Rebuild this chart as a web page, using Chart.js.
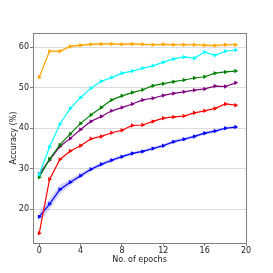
<!DOCTYPE html>
<html>
<head>
<meta charset="utf-8">
<script src="https://cdn.jsdelivr.net/npm/chart.js@4/dist/chart.umd.min.js"></script>
<style>
  html, body { margin: 0; padding: 0; background: #fff; }
  #wrap { width: 273px; height: 273px; }
</style>
</head>
<body>
<div id="wrap"><canvas id="myChart" width="273" height="273"></canvas></div>
<script>
const epochs = [0,1,2,3,4,5,6,7,8,9,10,11,12,13,14,15,16,17,18,19];
const xTicks = [0, 4, 8, 12, 16, 20];
const yTicks = [20, 30, 40, 50, 60];

const orange = [52.6,59.0,59.0,60.2,60.5,60.7,60.8,60.8,60.7,60.8,60.7,60.6,60.7,60.6,60.6,60.6,60.5,60.4,60.6,60.6];
const cyan   = [28.6,35.4,41.0,44.9,47.6,49.9,51.6,52.5,53.6,54.1,54.8,55.4,56.3,57.1,57.6,57.3,58.8,58.0,59.0,59.3];
const green  = [27.9,32.4,35.9,38.6,41.2,43.3,45.1,47.0,48.0,48.8,49.5,50.5,51.0,51.5,51.9,52.4,52.7,53.6,53.9,54.1];
const purple = [28.7,32.2,35.5,37.5,39.7,41.7,42.9,44.3,45.1,46.0,47.0,47.4,48.1,48.6,49.0,49.4,49.7,50.4,50.3,51.2];
const red    = [14.1,27.4,32.3,34.4,35.7,37.4,38.0,38.9,39.5,40.7,40.8,41.7,42.5,42.8,43.0,43.8,44.3,44.9,46.0,45.7];
const blue   = [18.2,21.3,24.9,26.7,28.3,29.9,31.1,32.1,33.0,33.8,34.3,35.0,35.7,36.7,37.3,38.0,38.8,39.3,40.0,40.3];

// spread of the shaded bands
const blueErr   = [1.4,1.3,1.1,0.8,0.6,0.5,0.5,0.5,0.4,0.4,0.4,0.4,0.4,0.4,0.4,0.4,0.4,0.4,0.3,0.3];
const orangeErr = [0.3,0.3,0.3,0.3,0.3,0.3,0.3,0.3,0.3,0.3,0.3,0.3,0.3,0.3,0.3,0.3,0.3,0.3,0.3,0.3];

function pts(vals, off) {
    return epochs.map((e, i) => ({x: e, y: vals[i] + (off ? off[i] : 0)}));
}
function band(vals, err, color) {
    const lo = err.map(v => -v);
    return [
        {data: pts(vals, lo), borderWidth: 0, pointRadius: 0, fill: false, order: 10},
        {data: pts(vals, err), borderWidth: 0, pointRadius: 0, fill: '-1', backgroundColor: color, order: 10}
    ];
}
function series(vals, color) {
    return {
        data: pts(vals),
        borderColor: color,
        backgroundColor: color,
        borderWidth: 1.2,
        pointStyle: 'triangle',
        pointRotation: 90,
        pointRadius: 2.6,
        pointBorderWidth: 0,
        fill: false,
        order: 1
    };
}

const frame = {
    id: 'frame',
    afterDraw(chart) {
        const a = chart.chartArea, ctx = chart.ctx;
        ctx.save();
        ctx.strokeStyle = '#808080';
        ctx.lineWidth = 1;
        ctx.strokeRect(a.left + 0.5, a.top + 0.5, a.right - a.left, a.bottom - a.top);
        ctx.restore();
    }
};

const config = {
    type: 'line',
    data: {
        datasets: [
            ...band(blue, blueErr, 'rgba(0,0,255,0.18)'),
            ...band(orange, orangeErr, 'rgba(255,165,0,0.25)'),
            series(orange, '#ffa500'),
            series(cyan, '#00ffff'),
            series(green, '#008000'),
            series(purple, '#800080'),
            series(red, '#ff0000'),
            series(blue, '#0000ff')
        ]
    },
    options: {
        responsive: false,
        animation: false,
        layout: {padding: {left: 0, top: 33, right: 27, bottom: 8}},
        plugins: {legend: {display: false}, tooltip: {enabled: false}},
        scales: {
            x: {
                type: 'linear',
                min: -0.6,
                max: 20,
                afterBuildTicks: axis => { axis.ticks = xTicks.map(v => ({value: v})); },
                afterFit: axis => { axis.height = 22; },
                grid: {drawOnChartArea: false, color: '#808080', tickLength: 3},
                border: {color: '#808080'},
                ticks: {color: '#222', font: {family: 'DejaVu Sans', size: 8}, padding: 0, maxRotation: 0},
                title: {display: true, text: 'No. of epochs', color: '#222', font: {family: 'DejaVu Sans', size: 8}, padding: 0}
            },
            y: {
                min: 11.7,
                max: 63.5,
                afterBuildTicks: axis => { axis.ticks = yTicks.map(v => ({value: v})); },
                afterFit: axis => { axis.width = 33; },
                grid: {color: '#dddddd', tickLength: 3, tickColor: '#808080'},
                border: {color: '#808080'},
                ticks: {color: '#222', font: {family: 'DejaVu Sans', size: 8}, padding: 1},
                title: {display: true, text: 'Accuracy (%)', color: '#222', font: {family: 'DejaVu Sans', size: 8}, padding: {top: 9, bottom: 0}}
            }
        }
    },
    plugins: [frame]
};

const myChart = new Chart(document.getElementById('myChart').getContext('2d'), config);
</script>
</body>
</html>
